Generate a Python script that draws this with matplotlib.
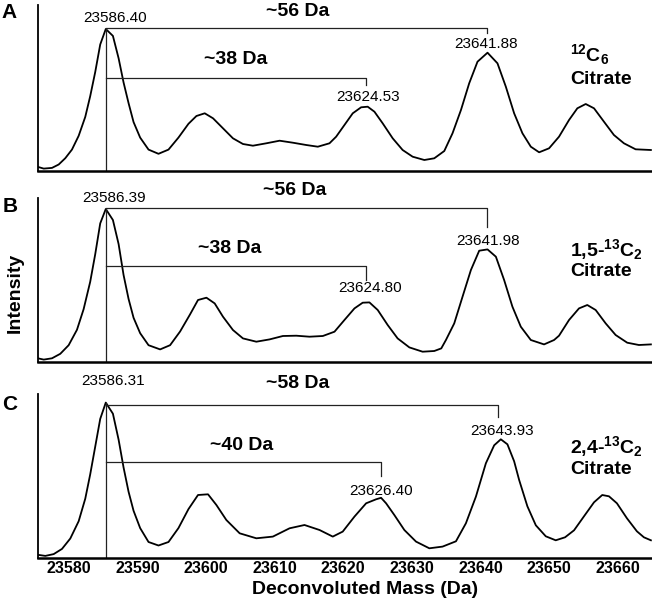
import numpy as np
import matplotlib
matplotlib.use("Agg")
import matplotlib.pyplot as plt

plt.rcParams['font.family'] = ['Liberation Sans', 'DejaVu Sans']
plt.rcParams['mathtext.fontset'] = 'custom'
plt.rcParams['mathtext.rm'] = 'Liberation Sans'
plt.rcParams['mathtext.bf'] = 'Liberation Sans:bold'
plt.rcParams['mathtext.default'] = 'bf'

# --- data (mass in Da, intensity in arbitrary units) ---
mass_a = [23575.5, 23576.36, 23577.56, 23578.54, 23579.50, 23580.47, 23581.45, 23582.41, 23583.13, 23583.86,
          23584.59, 23585.4, 23586.44, 23587.27, 23587.99, 23588.72, 23589.45, 23590.41, 23591.63, 23593.08,
          23594.54, 23595.99, 23597.45, 23598.61, 23599.82, 23601.03, 23602.48, 23603.93, 23605.39, 23606.84,
          23608.79, 23610.73, 23612.66, 23614.61, 23616.30, 23618.00, 23618.97, 23620.18, 23621.39, 23622.61,
          23623.57, 23624.55, 23625.75, 23627.21, 23628.66, 23630.12, 23631.82, 23633.27, 23634.73, 23635.93,
          23637.16, 23638.36, 23639.57, 23641.03, 23642.48, 23643.70, 23644.91, 23646.12, 23647.34, 23648.55,
          23650.00, 23651.45, 23652.91, 23654.12, 23655.34, 23656.55, 23658.00, 23659.45, 23660.91, 23662.61,
          23664.84]
int_a = [4.1, 2.4, 3.1, 6.5, 12.8, 21.4, 35.2, 54.1, 74.8, 98.9,
         126.5, 142, 135.1, 112.7, 88.6, 67.9, 48.9, 33.4, 21.4, 17.2,
         21.4, 33.4, 47.2, 55, 57.7, 52.7, 42.7, 32.7, 27, 25.3,
         27.7, 30.3, 28.3, 26, 24.3, 27.7, 34.3, 46, 57.7, 63.7,
         64.3, 59.3, 47.7, 32.7, 21, 14.3, 11, 12.7, 20, 37.7,
         61, 87.7, 109.3, 118.3, 107.7, 84.3, 57.7, 37.7, 24.3, 18.7,
         22.7, 34.3, 51, 62.7, 67, 62.7, 49.3, 36, 27.7, 21.7,
         21]

mass_b = [23575.5, 23576.36, 23577.56, 23578.77, 23579.99, 23581.20, 23582.17, 23583.13, 23583.86, 23584.59,
          23585.4, 23586.44, 23587.27, 23587.99, 23588.72, 23589.45, 23590.41, 23591.63, 23593.32, 23594.77,
          23596.23, 23597.68, 23598.84, 23600.07, 23601.27, 23602.48, 23603.93, 23605.39, 23607.34, 23609.27,
          23611.21, 23613.16, 23615.09, 23617.03, 23618.73, 23620.18, 23621.64, 23622.84, 23623.82, 23625.03,
          23626.48, 23627.93, 23629.64, 23631.57, 23633.27, 23634.29, 23634.97, 23636.18, 23637.39, 23638.61,
          23639.82, 23641.03, 23642.25, 23643.45, 23644.66, 23645.88, 23647.34, 23649.27, 23650.73, 23651.45,
          23652.91, 23654.36, 23655.57, 23656.79, 23658.25, 23659.70, 23661.39, 23663.09, 23664.84]
int_b = [3.4, 2.1, 3.4, 7.9, 16.5, 31.9, 52.5, 79.9, 107.4, 138.3,
         152.7, 141.7, 117.6, 86.8, 62.8, 43.9, 28.5, 16.5, 12.3, 16.5,
         30.2, 47.3, 61.7, 64, 58.3, 45, 31.7, 23.3, 20, 22.3,
         25.7, 26, 25, 25.7, 30, 41.7, 53.3, 59, 59.3, 51.7,
         36.7, 23.3, 14.3, 10, 10.7, 13.3, 21.7, 38.3, 65, 91.7,
         111, 112.3, 105, 81.7, 55, 35, 21.7, 17.3, 21.7, 26,
         41.7, 53.3, 56.7, 51.7, 38.3, 26.7, 19, 16.7, 17.3]

mass_c = [23575.5, 23576.59, 23577.81, 23579.02, 23580.23, 23581.45, 23582.41, 23583.13, 23583.86, 23584.59,
          23585.4, 23586.44, 23587.27, 23587.99, 23588.72, 23589.45, 23590.41, 23591.63, 23593.08, 23594.54,
          23595.99, 23597.45, 23598.84, 23600.30, 23601.52, 23602.97, 23604.91, 23607.34, 23609.75, 23612.18,
          23614.36, 23616.55, 23618.48, 23619.93, 23621.64, 23623.34, 23624.79, 23625.52, 23626.25, 23627.45,
          23628.91, 23630.61, 23632.55, 23634.48, 23636.43, 23637.88, 23639.34, 23640.79, 23642.0, 23642.97,
          23643.93, 23644.91, 23645.64, 23646.84, 23648.07, 23649.52, 23650.97, 23652.33, 23653.64, 23655.09,
          23656.55, 23657.75, 23658.73, 23659.89, 23661.35, 23662.80, 23663.82, 23664.84]
int_c = [3.5, 2.4, 4.2, 9.4, 19.8, 37.1, 59.6, 83.9, 111.6, 139.4,
         155.7, 144.6, 118.6, 90.9, 66.6, 47.5, 30.2, 16.3, 12.8, 16.3,
         30.2, 49.2, 63.3, 64, 53.3, 38.3, 25, 20, 21.7, 30,
         33.3, 28.3, 21.7, 26.7, 41.7, 55, 59, 60.5, 55, 43.3,
         28.3, 16.7, 10, 11.7, 17, 35, 61.7, 95, 113, 119,
         114, 97, 78.3, 52, 33, 22, 18, 21, 28, 42,
         56, 63.3, 62, 55, 40, 27, 21, 18]

panels = ['A', 'B', 'C']
peak_labels = [['23586.40', '23624.53', '23641.88'],
               ['23586.39', '23624.80', '23641.98'],
               ['23586.31', '23626.40', '23643.93']]
shift_labels = [['~56 Da', '~38 Da'], ['~56 Da', '~38 Da'], ['~58 Da', '~40 Da']]
species = [r'$^{12}$C$_6$', r'1,5-$^{13}$C$_2$', r'2,4-$^{13}$C$_2$']

# bracket geometry per panel: base peak x, far/near peak x, bracket heights and tick ends
base_x = [23585.4, 23585.4, 23585.4]
far_x = [23641.0, 23641.0, 23642.6]
near_x = [23623.3, 23623.3, 23625.5]
base_top = [142, 152.7, 155.7]
far_y = [142.7, 153.4, 153.3]
far_tick = [138, 135, 141.6]
near_y = [92.7, 95.7, 96]
near_tick = [86, 81.7, 82.3]

masses = [mass_a, mass_b, mass_c]
ints = [int_a, int_b, int_c]

# --- layout (figure pixels -> fractions) ---
W, H = 652, 605
fig = plt.figure(figsize=(W / 100, H / 100), dpi=100)
boxes = [(5, 171), (198, 361.7), (394, 558.3)]
left_px = 37.5
xmin, xmax = 23575.45, 23665.0
line_col = '#222222'

for i, (top, bot) in enumerate(boxes):
    ax = fig.add_axes([left_px / W, 1 - bot / H, (W - left_px) / W, (bot - top) / H])
    ax.plot(masses[i], ints[i], color='black', lw=1.3, solid_joinstyle='round')
    ax.set_xlim(xmin, xmax)
    ax.set_ylim(0, bot - top)
    for s in ['top', 'right']:
        ax.spines[s].set_visible(False)
    ax.spines['left'].set_linewidth(1.3)
    ax.spines['bottom'].set_linewidth(1.8)
    ax.set_yticks([])
    ax.set_xticks(np.arange(23580, 23661, 10))
    ax.tick_params(axis='x', length=0, pad=2)
    if i < 2:
        ax.set_xticklabels([])
    else:
        for lab in ax.get_xticklabels():
            lab.set_fontfamily(['Liberation Sans Narrow', 'Liberation Sans'])
            lab.set_fontweight('bold')
            lab.set_fontsize(11.5)

    # peak marker and brackets
    ax.plot([base_x[i], base_x[i]], [0, base_top[i]], color=line_col, lw=0.9)
    ax.plot([base_x[i], far_x[i], far_x[i]], [far_y[i], far_y[i], far_tick[i]], color=line_col, lw=0.9)
    ax.plot([base_x[i], near_x[i], near_x[i]], [near_y[i], near_y[i], near_tick[i]], color=line_col, lw=0.9)

# text positions in figure pixels (x, y)
peak_pos = [[(115, 18), (368, 97), (486, 44)],
            [(114, 198), (370, 288), (488, 241)],
            [(113, 381), (381, 491), (502, 431)]]
shift_pos = [[(298, 12), (236, 60)],
             [(295, 190), (230, 248)],
             [(298, 383), (242, 446)]]
species_pos = [(570, 55), (570, 250), (570, 447)]
citrate_pos = [(570, 80), (570, 271), (570, 470)]
letter_pos = [(9, 12), (10, 207), (10, 405)]

def fx(x):
    return x / W

def fy(y):
    return 1 - y / H

for i in range(3):
    for lab, (x, y) in zip(peak_labels[i], peak_pos[i]):
        fig.text(fx(x), fy(y), lab, ha='center', va='center', fontsize=11)
    for lab, (x, y) in zip(shift_labels[i], shift_pos[i]):
        fig.text(fx(x), fy(y), lab, ha='center', va='center', fontsize=14, fontweight='bold')
    x, y = species_pos[i]
    fig.text(fx(x), fy(y), species[i], ha='left', va='center', fontsize=14, fontweight='bold')
    x, y = citrate_pos[i]
    fig.text(fx(x), fy(y), 'Citrate', ha='left', va='center', fontsize=14, fontweight='bold')
    x, y = letter_pos[i]
    fig.text(fx(x), fy(y), panels[i], ha='center', va='center', fontsize=15, fontweight='bold')

fig.text(fx(15), fy(293), 'Intensity', rotation=90, ha='center', va='center',
         fontsize=14, fontweight='bold')
fig.text(fx(365), fy(590), 'Deconvoluted Mass (Da)', ha='center', va='center',
         fontsize=14, fontweight='bold')

fig.savefig('out.png', dpi=100)
